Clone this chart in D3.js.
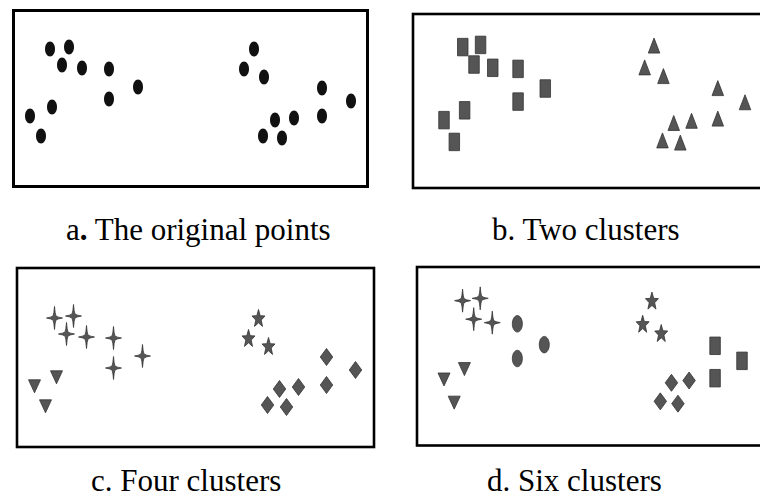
<!DOCTYPE html>
<html>
<head>
  <meta charset="utf-8">
  <style>
    body {
      margin: 0;
      background: #fff;
    }

    .box {
      fill: none;
      stroke: #000;
    }

    .caption {
      font-family: "Liberation Serif", "Times New Roman", serif;
      font-size: 31px;
      fill: #000;
    }
  </style>
  <script src="https://cdn.jsdelivr.net/npm/d3@7"></script>
</head>

<body>
  <script>
    const width = 760;
    const height = 499;

    // the 20 points (same positions in every panel)
    const pointX = [50, 69, 62, 82, 109, 138, 109, 52, 30, 41, 254, 244, 264, 322, 351, 322, 294, 275, 263, 282];
    const pointY = [49, 47, 65, 68, 69, 87, 99, 107, 116, 136, 49, 69, 77, 88, 101, 116, 118, 120, 136, 138];

    // marker used for every point, per panel
    const shapesA = d3.range(20).map(() => "dot");
    const shapesB = [
      "square", "square", "square", "square", "square", "square", "square", "square", "square", "square",
      "triangle", "triangle", "triangle", "triangle", "triangle", "triangle", "triangle", "triangle", "triangle", "triangle"
    ];
    const shapesC = [
      "cross", "cross", "cross", "cross", "cross", "cross", "cross",
      "triDown", "triDown", "triDown",
      "star", "star", "star",
      "diamond", "diamond", "diamond", "diamond", "diamond", "diamond", "diamond"
    ];
    const shapesD = [
      "cross", "cross", "cross", "cross",
      "oval", "oval", "oval",
      "triDown", "triDown", "triDown",
      "star", "star", "star",
      "square", "square", "square",
      "diamond", "diamond", "diamond", "diamond"
    ];

    const captionPrefix = ["a", "b", "c", "d"];
    const captionText = ["The original points", "Two clusters", "Four clusters", "Six clusters"];

    const panels = [
      { shapes: shapesA, box: [13.5, 10.5, 367.5, 186.5], sw: 3, xr: [30, 351], yr: [48, 137], cap: [66, 240] },
      { shapes: shapesB, box: [413, 14, 770, 188], sw: 2.6, xr: [444, 745], yr: [46, 143], cap: [492, 240] },
      { shapes: shapesC, box: [17, 268, 374, 447], sw: 2.6, xr: [34.5, 355.5], yr: [317, 406], cap: [91, 491] },
      { shapes: shapesD, box: [417, 267, 770, 445.5], sw: 2.6, xr: [444, 742], yr: [299.5, 402.5], cap: [487, 491] }
    ];

    // marker size (w, h) in px
    const markerSize = {
      dot: [10, 15],
      oval: [10, 16.5],
      square: [10.5, 17.5],
      triangle: [11.5, 15],
      triDown: [12, 13],
      cross: [16, 23],
      star: [13, 17],
      diamond: [12.5, 17]
    };

    function markerPath(type) {
      const [w, h] = markerSize[type];
      const p = d3.path();
      if (type === "dot" || type === "oval") {
        // ellipse with bezier arcs
        const rx = w / 2, ry = h / 2, k = 0.5523;
        p.moveTo(0, -ry);
        p.bezierCurveTo(rx * k, -ry, rx, -ry * k, rx, 0);
        p.bezierCurveTo(rx, ry * k, rx * k, ry, 0, ry);
        p.bezierCurveTo(-rx * k, ry, -rx, ry * k, -rx, 0);
        p.bezierCurveTo(-rx, -ry * k, -rx * k, -ry, 0, -ry);
      } else if (type === "square") {
        p.rect(-w / 2, -h / 2, w, h);
      } else if (type === "triangle") {
        p.moveTo(0, -h * 0.6);
        p.lineTo(w / 2, h * 0.4);
        p.lineTo(-w / 2, h * 0.4);
      } else if (type === "triDown") {
        p.moveTo(-w / 2, -h * 0.4);
        p.lineTo(w / 2, -h * 0.4);
        p.lineTo(0, h * 0.6);
      } else if (type === "diamond") {
        p.moveTo(0, -h / 2);
        p.lineTo(w / 2, 0);
        p.lineTo(0, h / 2);
        p.lineTo(-w / 2, 0);
      } else if (type === "cross") {
        const iw = w * 0.09, ih = h * 0.09;
        p.moveTo(0, -h / 2);
        p.quadraticCurveTo(iw * 0.4, -ih * 2, iw, -ih);
        p.quadraticCurveTo(iw * 2, -ih * 0.4, w / 2, 0);
        p.quadraticCurveTo(iw * 2, ih * 0.4, iw, ih);
        p.quadraticCurveTo(iw * 0.4, ih * 2, 0, h / 2);
        p.quadraticCurveTo(-iw * 0.4, ih * 2, -iw, ih);
        p.quadraticCurveTo(-iw * 2, ih * 0.4, -w / 2, 0);
        p.quadraticCurveTo(-iw * 2, -ih * 0.4, -iw, -ih);
        p.quadraticCurveTo(-iw * 0.4, -ih * 2, 0, -h / 2);
      } else if (type === "star") {
        for (let i = 0; i < 10; i++) {
          const a = -Math.PI / 2 + i * Math.PI / 5;
          const r = i % 2 === 0 ? 1 : 0.42;
          const x = Math.cos(a) * r * w / 2 / 0.951;
          const y = Math.sin(a) * r * h / 2 / 0.905 + h * 0.05;
          if (i === 0) p.moveTo(x, y); else p.lineTo(x, y);
        }
      }
      p.closePath();
      return p.toString();
    }

    const svg = d3.select("body")
      .append("svg")
      .attr("width", width)
      .attr("height", height);

    // data domain shared by all panels
    const xDomain = [30, 351];
    const yDomain = [48, 137];

    panels.forEach((panel, pi) => {
      const x = d3.scaleLinear().domain(xDomain).range(panel.xr);
      const y = d3.scaleLinear().domain(yDomain).range(panel.yr);
      const g = svg.append("g");

      const [x0, y0, x1, y1] = panel.box;
      g.append("rect")
        .attr("class", "box")
        .attr("x", x0)
        .attr("y", y0)
        .attr("width", x1 - x0)
        .attr("height", y1 - y0)
        .style("stroke-width", panel.sw);

      const pts = pointX.map((px, i) => ({ x: px, y: pointY[i], shape: panel.shapes[i] }));

      g.selectAll("path.mark")
        .data(pts)
        .join("path")
        .attr("class", "mark")
        .attr("d", d => markerPath(d.shape))
        .attr("transform", d => `translate(${x(d.x)},${y(d.y)})`)
        .style("fill", d => d.shape === "dot" ? "#111" : "#555")
        .style("stroke", d => d.shape === "dot" ? "none" : "#333")
        .style("stroke-width", 0.8);

      const cap = g.append("text")
        .attr("class", "caption")
        .attr("x", panel.cap[0])
        .attr("y", panel.cap[1]);
      cap.append("tspan").text(captionPrefix[pi]);
      cap.append("tspan").style("font-weight", pi === 0 ? "bold" : "normal").text(".");
      cap.append("tspan").text(" " + captionText[pi]);
    });
  </script>
</body>
</html>
